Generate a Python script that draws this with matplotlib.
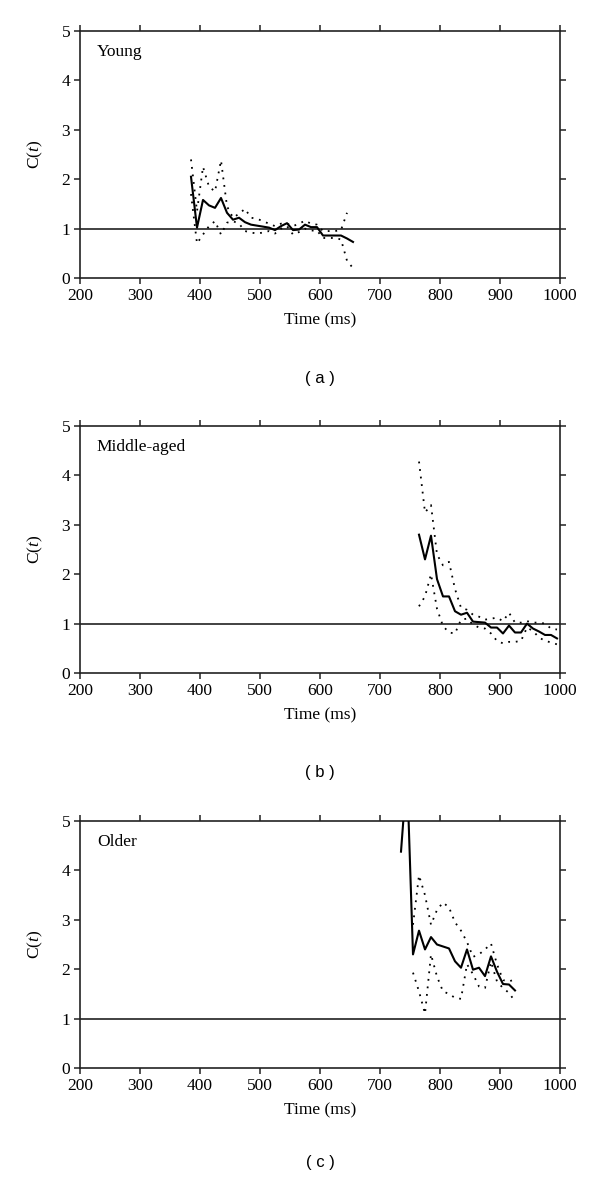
import matplotlib
matplotlib.use("Agg")
import matplotlib.pyplot as plt
import numpy as np

plt.rcParams['font.family'] = ['Liberation Serif', 'DejaVu Serif']
plt.rcParams['mathtext.fontset'] = 'custom'
plt.rcParams['mathtext.rm'] = 'Liberation Serif'
plt.rcParams['mathtext.it'] = 'Liberation Serif:italic'

# ---------------- data ----------------
# Panel (a) Young
young_t = [385, 395, 405, 415, 425, 435, 445, 455, 465, 475, 485, 495, 505, 515,
           525, 535, 545, 555, 565, 575, 585, 595, 605, 615, 625, 635, 645, 655]
young_c = [2.05, 1.02, 1.58, 1.47, 1.42, 1.62, 1.32, 1.18, 1.22, 1.13, 1.08, 1.06, 1.04, 1.02,
           0.97, 1.05, 1.11, 0.97, 0.98, 1.08, 1.03, 1.03, 0.86, 0.86, 0.86, 0.86, 0.80, 0.73]
young_up_t = young_t[:-1]
young_up = [2.40, 1.35, 2.25, 1.85, 1.75, 2.38, 1.45, 1.22, 1.30, 1.40, 1.22, 1.20, 1.15, 1.10,
            1.05, 1.10, 1.10, 1.05, 1.10, 1.16, 1.10, 1.08, 0.95, 0.95, 0.95, 0.97, 1.32]
young_lo = [1.70, 0.70, 0.88, 1.05, 1.15, 0.88, 1.12, 1.15, 1.10, 0.95, 0.92, 0.90, 0.92, 0.95,
            0.90, 1.00, 1.05, 0.88, 0.93, 1.00, 0.96, 0.96, 0.81, 0.81, 0.81, 0.78, 0.35, 0.20]

# Panel (b) Middle-aged
mid_t = [765, 775, 785, 795, 805, 815, 825, 835, 845, 855, 865, 875,
         885, 895, 905, 915, 925, 935, 945, 955, 965, 975, 985, 995]
mid_c = [2.80, 2.30, 2.78, 1.90, 1.55, 1.55, 1.25, 1.18, 1.22, 1.04, 1.03, 1.02,
         0.92, 0.92, 0.80, 0.96, 0.82, 0.82, 1.00, 0.90, 0.84, 0.77, 0.77, 0.70]
mid_up = [4.28, 3.25, 3.40, 2.40, 2.18, 2.25, 1.70, 1.32, 1.28, 1.18, 1.14, 1.08,
          1.10, 1.12, 1.05, 1.22, 1.02, 1.02, 1.05, 1.02, 1.02, 1.00, 0.90, 0.88]
mid_lo = [1.35, 1.55, 2.00, 1.30, 0.95, 0.82, 0.80, 1.08, 1.10, 0.98, 0.92, 0.90,
          0.80, 0.65, 0.60, 0.63, 0.63, 0.65, 0.92, 0.85, 0.72, 0.65, 0.62, 0.58]

# Panel (c) Older
old_t = [735, 745, 755, 765, 775, 785, 795, 805, 815, 825, 835, 845, 855, 865,
         875, 885, 895, 905, 915, 925]
old_c = [4.38, 6.00, 2.30, 2.78, 2.40, 2.65, 2.50, 2.46, 2.42, 2.16, 2.03, 2.40, 1.99, 2.03,
         1.86, 2.26, 1.95, 1.70, 1.69, 1.57]
old_band_t = old_t[2:]
old_up = [2.90, 3.90, 3.50, 2.90, 3.20, 3.35, 3.25, 2.95, 2.78, 2.55, 2.25, 2.30,
          2.40, 2.52, 2.10, 1.78, 1.75, 1.80]
old_lo = [1.93, 1.55, 1.10, 2.30, 1.85, 1.55, 1.50, 1.42, 1.40, 2.10, 1.90, 1.65,
          1.62, 2.15, 1.75, 1.62, 1.52, 1.35]

group_names = ["Young", "Middle-aged", "Older"]
captions = ["( a )", "( b )", "( c )"]
x_ticks = [200, 300, 400, 500, 600, 700, 800, 900, 1000]
y_ticks = [0, 1, 2, 3, 4, 5]

panels = [
    (young_t, young_c, young_up_t, young_up, young_t, young_lo),
    (mid_t, mid_c, mid_t, mid_up, mid_t, mid_lo),
    (old_t, old_c, old_band_t, old_up, old_band_t, old_lo),
]

# ---------------- figure ----------------
W, H = 600, 1179
fig = plt.figure(figsize=(W / 100, H / 100), dpi=100)

bottoms_px = [278, 673, 1068]
ax_h_px = 247
left_px, right_px = 80, 560
caption_y_px = [378, 772, 1163]

for i, (t, c, tu, up, tl, lo) in enumerate(panels):
    ax = fig.add_axes([left_px / W, 1 - bottoms_px[i] / H,
                       (right_px - left_px) / W, ax_h_px / H])
    ax.axhline(1, color='#333333', lw=1.3, zorder=1)
    ax.plot(tu, up, color='black', lw=1.3, linestyle=(0, (1, 3.2)), zorder=2)
    ax.plot(tl, lo, color='black', lw=1.3, linestyle=(0, (1, 3.2)), zorder=2)
    ax.plot(t, c, color='black', lw=1.5, zorder=3)
    ax.set_xlim(200, 1000)
    ax.set_ylim(0, 5)
    ax.set_xticks(x_ticks)
    ax.set_yticks(y_ticks)
    ax.tick_params(direction='out', length=4, width=1.1, labelsize=12.5,
                   top=True, right=True, color='#222222', pad=3)
    for s in ax.spines.values():
        s.set_linewidth(1.2)
        s.set_color('#222222')
    ax.set_xlabel('Time (ms)', fontsize=12.5, labelpad=6)
    ax.set_ylabel('C($t$)', fontsize=12.5, labelpad=12)
    ax.text(0.035, 0.915, group_names[i], transform=ax.transAxes,
            fontsize=12.5, va='center', ha='left')
    fig.text(320 / W, 1 - caption_y_px[i] / H, captions[i],
             family='Liberation Sans', fontsize=12, ha='center', va='center')

fig.savefig('out.png', dpi=100)
